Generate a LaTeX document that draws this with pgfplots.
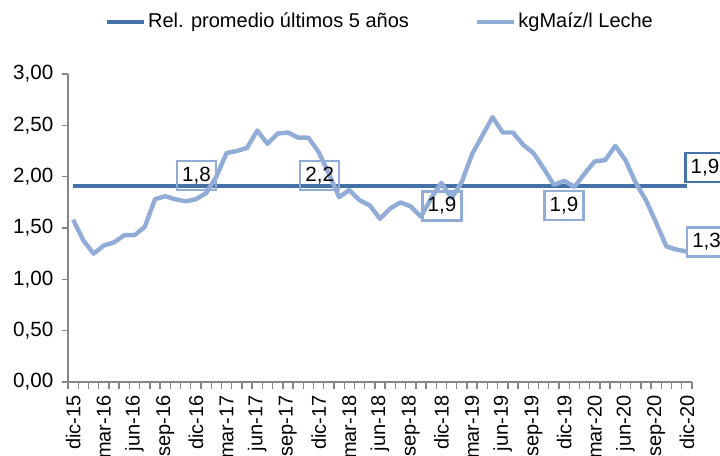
\documentclass[border=0pt]{standalone}
\usepackage{pgfplots}
\pgfplotsset{compat=1.18}
\usepackage{fontspec}
\setmainfont{Liberation Sans}
\definecolor{darkb}{RGB}{68,114,168}
\definecolor{lightb}{RGB}{145,172,215}
\definecolor{axgray}{RGB}{134,134,134}
\begin{document}
\begin{tikzpicture}
\begin{axis}[
  name=ax,
  width=312pt, height=154pt, scale only axis,
  xmin=-0.5, xmax=60.5, ymin=0, ymax=3,
  axis lines=left,
  axis line style={-, draw=axgray, line width=0.7pt},
  every tick/.style={draw=axgray, line width=0.7pt},
  tick align=outside,
  xtick={0,3,...,60},
  xticklabels={dic-15,mar-16,jun-16,sep-16,dic-16,mar-17,jun-17,sep-17,dic-17,mar-18,jun-18,sep-18,dic-18,mar-19,jun-19,sep-19,dic-19,mar-20,jun-20,sep-20,dic-20},
  minor xtick={-0.5,0.5,...,60.5},
  major x tick style={draw=none},
  minor x tick style={draw=axgray, line width=0.7pt},
  minor tick length=3.3pt,
  x tick label style={rotate=90, anchor=east, font=\fontsize{10}{12}\selectfont},
  xticklabel shift=0pt,
  ytick={0,0.5,...,3},
  major tick length=3.2pt,
  y tick label style={font=\fontsize{10.3}{12}\selectfont, xshift=-0.6pt},
  /pgf/number format/.cd, fixed, fixed zerofill, precision=2, use comma, assume math mode=true,
  /pgfplots/.cd,
  legend style={at={(0.5,1)}, anchor=center, yshift=26pt, draw=none, fill=none,
    legend columns=2, font=\fontsize{10}{12}\selectfont,
    /tikz/every even column/.append style={column sep=32pt},
    nodes={inner xsep=1pt}},
  legend image code/.code={\draw[#1] (0pt,0pt) -- (18.5pt,0pt);},
  clip=false,
]
\addplot[darkb, line width=2pt] coordinates {(0,1.91) (60,1.91)};
\addlegendentry{Rel. promedio últimos 5 años}
\addplot[lightb, line width=2.2pt, line join=round] coordinates {
(0,1.58) (1,1.38) (2,1.25) (3,1.33) (4,1.36) (5,1.43) (6,1.43) (7,1.51) (8,1.78) (9,1.81)
(10,1.78) (11,1.76) (12,1.78) (13,1.84) (14,2.00) (15,2.23) (16,2.25) (17,2.28) (18,2.45) (19,2.32)
(20,2.42) (21,2.43) (22,2.38) (23,2.38) (24,2.24) (25,2.03) (26,1.80) (27,1.87) (28,1.77) (29,1.72)
(30,1.59) (31,1.69) (32,1.75) (33,1.71) (34,1.61) (35,1.79) (36,1.94) (37,1.79) (38,1.95) (39,2.22)
(40,2.40) (41,2.58) (42,2.43) (43,2.43) (44,2.31) (45,2.23) (46,2.08) (47,1.92) (48,1.96) (49,1.90)
(50,2.03) (51,2.15) (52,2.16) (53,2.30) (54,2.16) (55,1.94) (56,1.77) (57,1.55) (58,1.32) (59,1.29)
(60,1.27)};
\addlegendentry{kgMaíz/l Leche}
\tikzset{lbl/.style={draw=lightb, line width=1.2pt, minimum width=19.5pt, minimum height=14.5pt, inner xsep=2.5pt, inner ysep=0pt, font=\fontsize{10.3}{12}\selectfont, text=black}}
\node[lbl] at (axis cs:12.06,2.012) {1,8};
\node[lbl] at (axis cs:24.1,2.012) {2,2};
\node[lbl] at (axis cs:36.06,1.714) {1,9};
\node[lbl] at (axis cs:47.98,1.721) {1,9};
\node[lbl, anchor=west] at (axis cs:59.9,1.364) {1,3};
\node[lbl, draw=darkb, anchor=west] at (axis cs:59.75,2.09) {1,9};
\end{axis}
\pgfresetboundingbox
\useasboundingbox ([xshift=-34pt,yshift=-36.55pt]ax.south west) rectangle ([xshift=14pt,yshift=37pt]ax.north east);
\end{tikzpicture}
\end{document}
